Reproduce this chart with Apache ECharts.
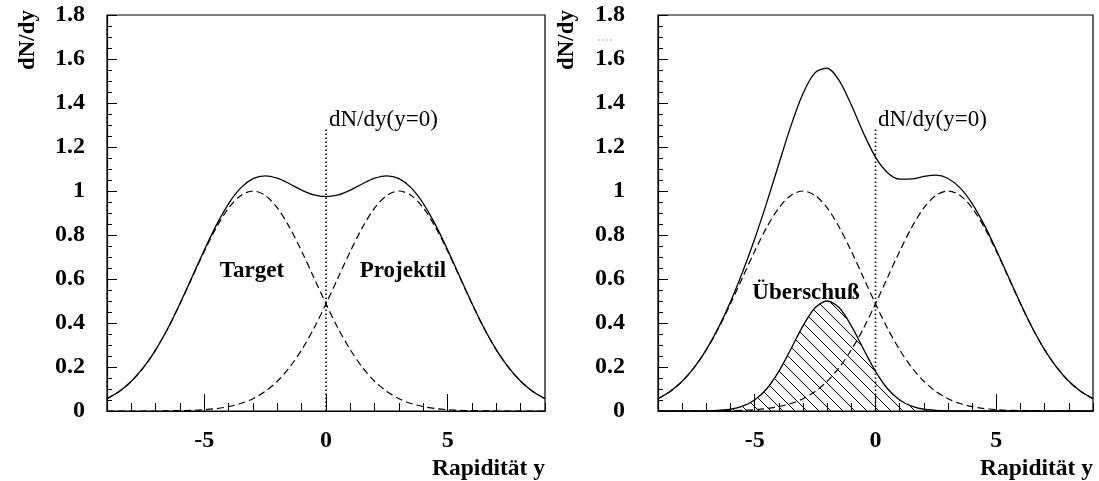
<!DOCTYPE html>
<html>
<head>
<meta charset="utf-8">
<script src="https://cdn.jsdelivr.net/npm/echarts@6/dist/echarts.min.js"></script>
<style>html,body{margin:0;padding:0;background:#fff}#c{width:1099px;height:481px}</style>
</head>
<body>
<div id="c"></div>
<script>
// Rapidity values (x)
const rapidity = [-9,-8.5,-8,-7.5,-7,-6.5,-6,-5.5,-5,-4.5,-4,-3.5,-3,-2.5,-2,-1.5,-1,-0.5,0,0.5,1,1.5,2,2.5,3,3.5,4,4.5,5,5.5,6,6.5,7,7.5,8,8.5,9];
// Dashed "Target" component
const target = [0.056,0.089,0.135,0.198,0.278,0.375,0.487,0.607,0.726,0.835,0.923,0.980,1.000,0.980,0.923,0.835,0.726,0.607,0.487,0.375,0.278,0.198,0.135,0.089,0.056,0.034,0.020,0.011,0.006,0.003,0.002,0.001,0,0,0,0,0];
// Dashed "Projektil" component
const projektil = [0,0,0,0,0,0.001,0.002,0.003,0.006,0.011,0.020,0.034,0.056,0.089,0.135,0.198,0.278,0.375,0.487,0.607,0.726,0.835,0.923,0.980,1.000,0.980,0.923,0.835,0.726,0.607,0.487,0.375,0.278,0.198,0.135,0.089,0.056];
// Solid total, left panel
const totalLeft = [0.056,0.089,0.135,0.198,0.278,0.376,0.489,0.610,0.732,0.846,0.943,1.014,1.056,1.069,1.058,1.033,1.004,0.982,0.974,0.982,1.004,1.033,1.058,1.069,1.056,1.014,0.943,0.846,0.732,0.610,0.489,0.376,0.278,0.198,0.135,0.089,0.056];
// Hatched "Überschuß" excess, right panel
const excess = [0,0,0,0,0.001,0.003,0.008,0.022,0.050,0.101,0.180,0.282,0.387,0.469,0.500,0.469,0.387,0.282,0.180,0.101,0.050,0.022,0.008,0.003,0.001,0,0,0,0,0,0,0,0,0,0,0,0];
// Solid total, right panel
const totalRight = [0.056,0.089,0.135,0.198,0.279,0.379,0.497,0.632,0.782,0.947,1.123,1.296,1.443,1.538,1.558,1.502,1.391,1.264,1.154,1.083,1.054,1.055,1.066,1.072,1.057,1.014,0.943,0.846,0.732,0.610,0.489,0.376,0.278,0.198,0.135,0.089,0.056];
// dN/dy(y=0) marker line
const markerX = [0, 0];
const markerY = [0, 1.29];
// Tick labels
const xTickLabels = [-5, 0, 5];

const pairs = (ys) => rapidity.map((x, i) => [x, ys[i]]);
const markerPairs = markerX.map((x, i) => [x, markerY[i]]);

const FONT = '"Liberation Serif", "Times New Roman", serif';

// hatch pattern
const hatch = document.createElement('canvas');
hatch.width = 12; hatch.height = 12;
(function () {
  const g = hatch.getContext('2d');
  g.strokeStyle = '#000';
  g.lineWidth = 1;
  g.beginPath();
  g.moveTo(-1, -1); g.lineTo(13, 13);
  g.moveTo(-1, 11); g.lineTo(1, 13);
  g.moveTo(11, -1); g.lineTo(13, 1);
  g.stroke();
})();

const chart = echarts.init(document.getElementById('c'), null, { renderer: 'canvas' });

function xAxes(gi) {
  return [
    {
      gridIndex: gi, type: 'value', min: -9, max: 9, interval: 1,
      axisLine: { show: true, onZero: false, lineStyle: { color: '#000', width: 1.2 } },
      axisTick: { show: true, inside: true, length: 8, lineStyle: { color: '#000', width: 1 } },
      axisLabel: {
        margin: 18, color: '#000', fontFamily: FONT, fontWeight: 'bold', fontSize: 24,
        formatter: (v) => (xTickLabels.indexOf(Math.round(v * 100) / 100) >= 0 ? String(v) : '')
      },
      splitLine: { show: false }
    },
    {
      gridIndex: gi, type: 'value', min: -9, max: 9, splitNumber: 3, position: 'bottom',
      axisLine: { show: false, onZero: false },
      axisTick: { show: true, inside: true, length: 17, customValues: xTickLabels, lineStyle: { color: '#000', width: 1 } },
      axisLabel: { show: false },
      splitLine: { show: false }
    }
  ];
}
function yAxis(gi, margin) {
  return {
    gridIndex: gi, type: 'value', min: 0, max: 1.8, interval: 0.2, position: 'left',
    axisLine: { show: true, onZero: false, lineStyle: { color: '#000', width: 1.2 } },
    axisTick: { show: true, inside: true, length: 10, lineStyle: { color: '#000', width: 1 } },
    minorTick: { show: true, splitNumber: 4, length: 5, lineStyle: { color: '#000', width: 1 } },
    axisLabel: { margin: margin, color: '#000', fontFamily: FONT, fontWeight: 'bold', fontSize: 24,
      formatter: (v) => String(Math.round(v * 10) / 10) },
    splitLine: { show: false }
  };
}

const solid = { color: '#000', width: 1.3, type: 'solid' };
const dashed = { color: '#000', width: 1.2, type: [7, 4] };
const dotted = { color: '#000', width: 1.6, type: [1.5, 2.5] };

function lineSeries(xi, yi, data, style, extra) {
  return Object.assign({
    type: 'line', xAxisIndex: xi, yAxisIndex: yi, data: data, showSymbol: false, symbol: 'none',
    smooth: 0.3, lineStyle: style, silent: true, animation: false, z: 3
  }, extra || {});
}

chart.setOption({
  animation: false,
  backgroundColor: '#fff',
  grid: [
    { left: 107, right: 554, top: 15, bottom: 70, show: true, borderColor: '#000', borderWidth: 1.2, backgroundColor: 'transparent' },
    { left: 658, right: 6, top: 15, bottom: 70, show: true, borderColor: '#000', borderWidth: 1.2, backgroundColor: 'transparent' }
  ],
  xAxis: xAxes(0).concat(xAxes(1)),
  yAxis: [yAxis(0, 22), yAxis(1, 33)],
  series: [
    lineSeries(0, 0, pairs(target), dashed),
    lineSeries(0, 0, pairs(projektil), dashed),
    lineSeries(0, 0, pairs(totalLeft), solid),
    lineSeries(0, 0, markerPairs, dotted, { smooth: false }),
    lineSeries(2, 1, pairs(target), dashed),
    lineSeries(2, 1, pairs(projektil), dashed),
    lineSeries(2, 1, pairs(excess), solid, { areaStyle: { color: { image: hatch, repeat: 'repeat' }, opacity: 1, origin: 'start' }, z: 2 }),
    lineSeries(2, 1, pairs(totalRight), solid),
    lineSeries(2, 1, markerPairs, dotted, { smooth: false })
  ],
  graphic: [
    { type: 'text', x: 28, y: 40, rotation: Math.PI / 2,
      style: { text: 'dN/dy', fill: '#000', font: 'bold 23px ' + FONT, textAlign: 'center', textVerticalAlign: 'middle' } },
    { type: 'text', x: 567, y: 40, rotation: Math.PI / 2,
      style: { text: 'dN/dy', fill: '#000', font: 'bold 23px ' + FONT, textAlign: 'center', textVerticalAlign: 'middle' } },
    { type: 'line', shape: { x1: 598, y1: 40, x2: 614, y2: 40 }, style: { stroke: '#888', lineWidth: 1, lineDash: [1.5, 2.5] } },
    { type: 'text', x: 545, y: 469,
      style: { text: 'Rapidität y', fill: '#000', font: 'bold 23.5px ' + FONT, textAlign: 'right', textVerticalAlign: 'middle' } },
    { type: 'text', x: 1093, y: 469,
      style: { text: 'Rapidität y', fill: '#000', font: 'bold 23.5px ' + FONT, textAlign: 'right', textVerticalAlign: 'middle' } },
    { type: 'text', x: 329, y: 120,
      style: { text: 'dN/dy(y=0)', fill: '#000', font: '23px ' + FONT, textAlign: 'left', textVerticalAlign: 'middle' } },
    { type: 'text', x: 878, y: 120,
      style: { text: 'dN/dy(y=0)', fill: '#000', font: '23px ' + FONT, textAlign: 'left', textVerticalAlign: 'middle' } },
    { type: 'text', x: 252, y: 271,
      style: { text: 'Target', fill: '#000', font: 'bold 23px ' + FONT, textAlign: 'center', textVerticalAlign: 'middle' } },
    { type: 'text', x: 403, y: 271,
      style: { text: 'Projektil', fill: '#000', font: 'bold 23px ' + FONT, textAlign: 'center', textVerticalAlign: 'middle' } },
    { type: 'text', x: 806, y: 293,
      style: { text: 'Überschuß', fill: '#000', font: 'bold 23px ' + FONT, textAlign: 'center', textVerticalAlign: 'middle' } }
  ]
});
</script>
</body>
</html>
